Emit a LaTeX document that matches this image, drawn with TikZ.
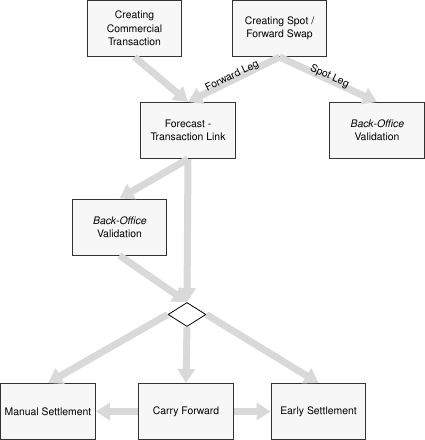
\documentclass[tikz,border=0pt]{standalone}
\usepackage[T1]{fontenc}
\usepackage{helvet}
\renewcommand{\familydefault}{\sfdefault}
\usetikzlibrary{arrows.meta,shapes.geometric}
\definecolor{flow}{HTML}{D9D9D9}
\definecolor{boxfill}{HTML}{F7F7F7}
\definecolor{boxline}{HTML}{333333}
\begin{document}
\begin{tikzpicture}[x=0.75pt,y=0.75pt,
  box/.style={draw=boxline,fill=boxfill,line width=0.75pt,minimum width=71pt,minimum height=42pt,
    inner sep=1pt,align=center,font=\fontsize{7.8}{10}\selectfont},
  decision/.style={diamond,draw=black,fill=white,line width=0.6pt,minimum width=28.5pt,minimum height=18pt,inner sep=0pt},
  flowarrow/.style={draw=flow,line width=5.25pt,-{Triangle[width=12.75pt,length=10.5pt]}},
  leglabel/.style={midway,sloped,inner sep=0pt,yshift=2.5pt,font=\fontsize{7.8}{10}\selectfont}]
\useasboundingbox (0,0) rectangle (425,-440);
\node[box] (cct) at (134.5,-28.5) {Creating\\Commercial\\Transaction};
\node[box] (spot) at (279.5,-28.5) {Creating Spot /\\Forward Swap};
\node[box] (fc) at (188,-130.5) {Forecast -\\Transaction Link};
\node[box] (bo1) at (377,-130.5) {\textit{Back-Office}\\Validation};
\node[box] (bo2) at (119.5,-227) {\textit{Back-Office}\\Validation};
\node[decision] (dia) at (187,-314.5) {};
\node[box] (ms) at (48,-411.5) {Manual Settlement};
\node[box] (cf) at (186,-411.5) {Carry Forward};
\node[box] (es) at (318.5,-411.5) {Early Settlement};
\draw[flowarrow] (cct.south) -- (fc.north);
\draw[flowarrow] (spot.south) -- node[leglabel] {Forward Leg} (fc.north);
\draw[flowarrow] (spot.south) -- node[leglabel] {Spot Leg} (bo1.north);
\draw[flowarrow] (fc.south) -- (bo2.north);
\draw[flowarrow] (fc.south) -- (dia.north);
\draw[flowarrow] (bo2.south) -- (dia.north);
\draw[flowarrow] (dia.west) -- (ms.north);
\draw[flowarrow] (dia.south) -- (cf.north);
\draw[flowarrow] (dia.east) -- (es.north);
\draw[flowarrow] (cf.west) -- (ms.east);
\draw[flowarrow] (cf.east) -- (es.west);
\end{tikzpicture}
\end{document}
